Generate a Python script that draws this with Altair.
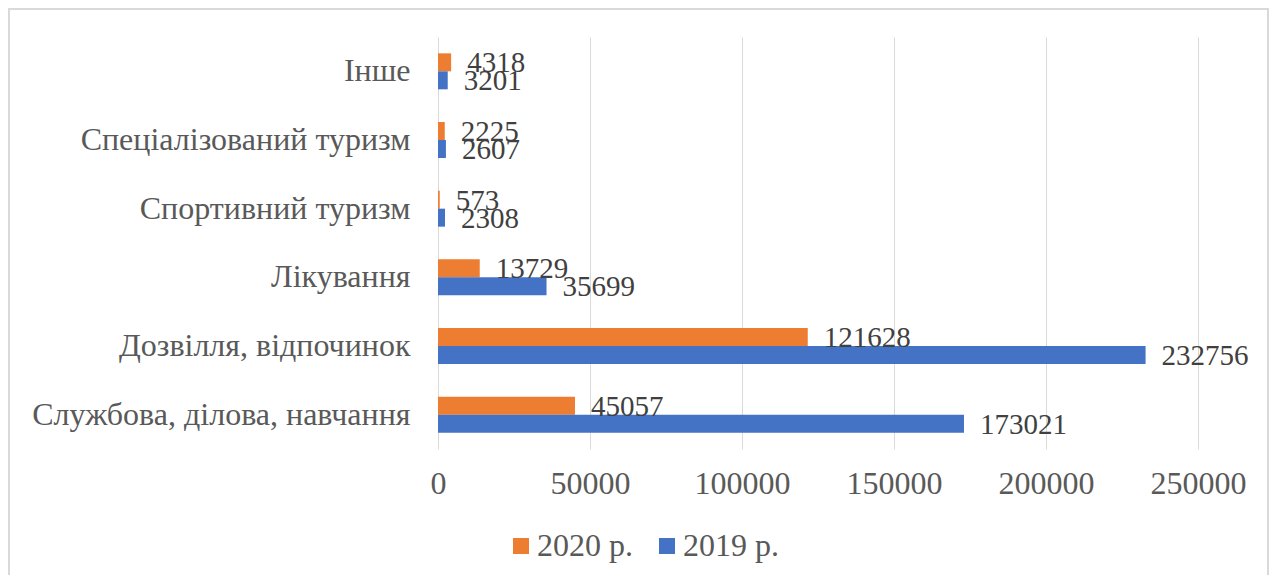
import altair as alt
import pandas as pd

categories = [
    "Інше",
    "Спеціалізований туризм",
    "Спортивний туризм",
    "Лікування",
    "Дозвілля, відпочинок",
    "Службова, ділова, навчання",
]
series_names = ["2020 р.", "2019 р."]
values_2020 = [4318, 2225, 573, 13729, 121628, 45057]
values_2019 = [3201, 2607, 2308, 35699, 232756, 173021]
x_ticks = [0, 50000, 100000, 150000, 200000, 250000]
colors = ["#ED7D31", "#4472C4"]

rows = []
for c, v in zip(categories, values_2020):
    rows.append({"cat": c, "series": series_names[0], "value": v})
for c, v in zip(categories, values_2019):
    rows.append({"cat": c, "series": series_names[1], "value": v})
df = pd.DataFrame(rows)

FONT = "Times New Roman, Liberation Serif, Tinos, serif"

y_enc = alt.Y(
    "cat:N",
    sort=categories,
    scale=alt.Scale(paddingInner=0.476, paddingOuter=0.238),
    axis=alt.Axis(
        title=None,
        labelFont=FONT,
        labelFontSize=32,
        labelColor="#595959",
        labelPadding=28,
        labelLimit=600,
        ticks=False,
        tickSize=0,
        domain=False,
        grid=False,
    ),
)
yoff_enc = alt.YOffset(
    "series:N", sort=series_names, scale=alt.Scale(paddingInner=0, paddingOuter=0)
)
x_enc = alt.X(
    "value:Q",
    scale=alt.Scale(domain=[0, 250000], nice=False, zero=True),
    axis=alt.Axis(
        title=None,
        values=x_ticks,
        format="d",
        labelFont=FONT,
        labelFontSize=32,
        labelColor="#595959",
        labelBaseline="alphabetic",
        labelPadding=44,
        labelFlush=False,
        labelOverlap=False,
        ticks=False,
        tickSize=0,
        domain=False,
        grid=True,
        gridColor="#D9D9D9",
        gridWidth=1,
    ),
)

base = alt.Chart(df)

bars = base.mark_bar().encode(
    x=x_enc,
    y=y_enc,
    yOffset=yoff_enc,
    color=alt.Color(
        "series:N",
        scale=alt.Scale(domain=series_names, range=colors),
        legend=alt.Legend(
            title=None,
            orient="none",
            legendX=67,
            legendY=493,
            direction="horizontal",
            symbolType="square",
            symbolSize=256,
            symbolStrokeWidth=0,
            labelFont=FONT,
            labelFontSize=32,
            labelColor="#595959",
            labelOffset=0,
            columnPadding=18,
            padding=0,
        ),
    ),
)

labels = base.mark_text(
    align="left",
    baseline="middle",
    dx=16,
    dy=1,
    font=FONT,
    fontSize=29,
    color="#404040",
).encode(
    x="value:Q",
    y=alt.Y("cat:N", sort=categories),
    yOffset=alt.YOffset("series:N", sort=series_names),
    text=alt.Text("value:Q", format="d"),
)

border = alt.Chart(pd.DataFrame({"a": [0]})).mark_rect(
    fillOpacity=0, stroke="#D9D9D9", strokeWidth=2
).encode(
    x=alt.value(-429),
    x2=alt.value(830),
    y=alt.value(-28),
    y2=alt.value(700),
)

chart = (
    alt.layer(bars, labels, border)
    .properties(
        width=760,
        height=412,
        autosize=alt.AutoSizeParams(type="none"),
        padding={"left": 430, "top": 29, "right": 71, "bottom": 126},
        background="white",
    )
    .configure_view(stroke=None)
)

chart.save("out.html", embed_options={"renderer": "svg", "actions": False})
